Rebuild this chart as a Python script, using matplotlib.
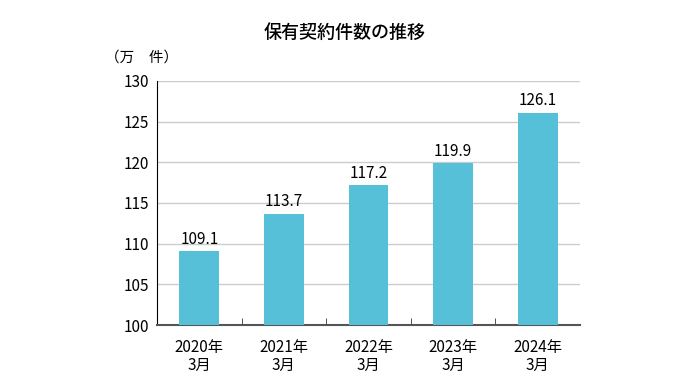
import matplotlib
matplotlib.use("Agg")
import matplotlib.pyplot as plt
import numpy as np

plt.rcParams["font.family"] = ["Noto Sans CJK JP", "DejaVu Sans"]

categories = ["2020年\n3月", "2021年\n3月", "2022年\n3月", "2023年\n3月", "2024年\n3月"]
values = [109.1, 113.7, 117.2, 119.9, 126.1]
yticks = [100, 105, 110, 115, 120, 125, 130]

BAR = "#56C0D9"

fig = plt.figure(figsize=(6.9, 3.82), dpi=100)
ax = fig.add_axes([0.2275, 0.1492, 0.613, 0.639])

x = np.arange(len(values))
ax.bar(x, values, width=0.47, color=BAR, zorder=3)
for xi, v in zip(x, values):
    ax.text(xi, v + 0.4, f"{v:.1f}", ha="center", va="bottom", fontsize=11, zorder=4)

ax.set_xlim(-0.5, len(values) - 0.5)
ax.set_ylim(100, 130)
ax.set_yticks(yticks)
ax.set_yticklabels([str(t) for t in yticks], fontsize=11)
ax.yaxis.grid(True, color="#cccccc", lw=1.0, zorder=0)
ax.tick_params(axis="y", length=0, pad=6)

ax.set_xticks(x)
ax.set_xticklabels(categories, fontsize=11, linespacing=1.05)
ax.tick_params(axis="x", which="major", length=0, pad=10)
ax.set_xticks(np.arange(0.5, len(values) - 1, 1), minor=True)
ax.tick_params(axis="x", which="minor", direction="in", length=5, color="#333333")

for s in ["top", "right"]:
    ax.spines[s].set_visible(False)
ax.spines["left"].set_color("#000000")
ax.spines["bottom"].set_color("#555555")
ax.spines["bottom"].set_linewidth(1.5)

fig.text(0.5, 0.915, "保有契約件数の推移", ha="center", va="center", fontsize=13, fontweight="medium")
fig.text(0.152, 0.85, "（万　件）", ha="left", va="center", fontsize=10.5)

fig.savefig("out.png", dpi=100)
